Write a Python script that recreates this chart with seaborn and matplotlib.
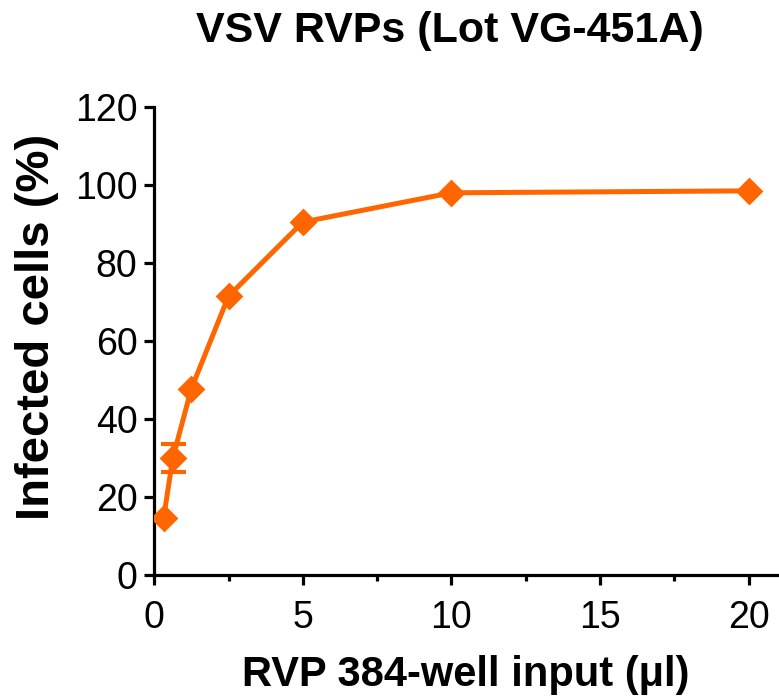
import matplotlib
matplotlib.use("Agg")
import matplotlib.pyplot as plt
import seaborn as sns
import pandas as pd
from matplotlib.ticker import MultipleLocator

input_ul = [0.3125, 0.625, 1.25, 2.5, 5, 10, 20]
infected_pct = [14.5, 30, 47.8, 71.5, 90.5, 98, 98.5]
err_pct = [0, 3.6, 0, 0, 0, 0, 0]
title = "VSV RVPs (Lot VG-451A)"
xlabel = "RVP 384-well input (\u03bcl)"
ylabel = "Infected cells (%)"

sns.set_style("ticks")
plt.rcParams['font.family'] = ['Liberation Sans', 'DejaVu Sans']
plt.rcParams['text.color'] = 'black'
plt.rcParams['axes.labelcolor'] = 'black'
plt.rcParams['xtick.color'] = 'black'
plt.rcParams['ytick.color'] = 'black'

df = pd.DataFrame({"x": input_ul, "y": infected_pct, "e": err_pct})
err = df[df["e"] > 0]
color = "#FF6600"
diamond = [(-1, 0), (0, 1), (1, 0), (0, -1), (-1, 0)]

fig = plt.figure(figsize=(7.79, 6.98), dpi=100)
ax = fig.add_axes([0.198, 0.1762, 0.801, 0.6705])

ax.errorbar(err["x"], err["y"], yerr=err["e"], fmt="none", ecolor=color,
            elinewidth=3, capsize=9, capthick=3, zorder=2)
sns.lineplot(data=df, x="x", y="y", ax=ax, color=color, linewidth=3.6,
             marker=diamond, markersize=20, markeredgewidth=0, zorder=3)

ax.set_xlim(0, 21)
ax.set_ylim(0, 120)
ax.xaxis.set_major_locator(MultipleLocator(5))
ax.xaxis.set_minor_locator(MultipleLocator(2.5))
ax.yaxis.set_major_locator(MultipleLocator(20))

sns.despine(ax=ax)
for s in ["left", "bottom"]:
    ax.spines[s].set_linewidth(2.3)
    ax.spines[s].set_color("black")
ax.tick_params(axis="both", which="major", length=7, width=2.3, labelsize=27)
ax.tick_params(axis="y", which="major", pad=5)
ax.tick_params(axis="x", which="major", pad=11)
ax.tick_params(axis="x", which="minor", length=4.5, width=2.3)

fig.text(0.578, 0.94, title, fontsize=31, fontweight="bold", ha="center", va="baseline")
ax.set_xlabel(xlabel, fontsize=30, fontweight="bold", labelpad=14)
ax.set_ylabel(ylabel, fontsize=34, fontweight="bold")
ax.yaxis.set_label_coords(-0.152, 0.53)

fig.savefig("out.png", dpi=100)
